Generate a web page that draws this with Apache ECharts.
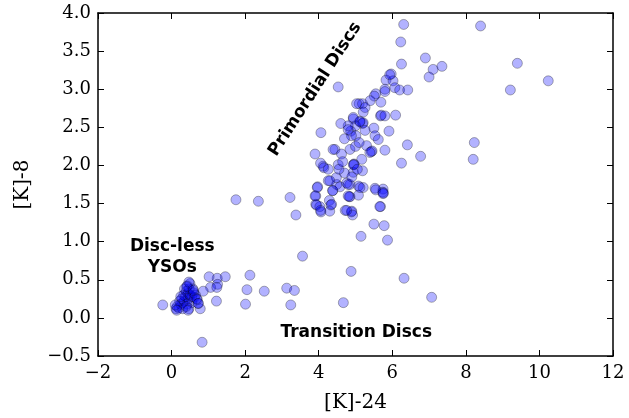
<!DOCTYPE html>
<html>
<head>
<meta charset="utf-8">
<script src="https://cdn.jsdelivr.net/npm/echarts@6/dist/echarts.min.js"></script>
<style>html,body{margin:0;padding:0;background:#fff}#c{width:629px;height:418px}</style>
</head>
<body>
<div id="c"></div>
<script>
// [K]-24 values, [K]-8 values
const xVals = [
  6.31,8.40,6.23,6.90,6.25,7.11,7.35,7.00,9.40,10.24,9.21,5.97,5.83,6.02,6.07,6.20,6.42,5.80,5.80,5.55,5.51,5.40,5.69,5.10,5.19,5.26,5.21,5.68,5.70,5.80,6.09,4.94,5.12,5.19,5.21,5.00,5.26,5.50,5.91,4.87,5.01,5.53,5.62,5.30,5.43,5.45,5.80,6.41,6.77,6.25,8.23,8.20,4.96,4.94,5.19,4.94,5.08,5.21,5.53,5.75,4.85,5.08,5.74,5.76,4.85,5.68,4.89,4.90,4.92,5.50,5.78,5.15,5.87,4.88,6.32,7.07,
  1.75,2.36,3.22,3.38,3.92,3.97,3.92,4.03,4.06,4.29,4.33,4.30,4.38,4.26,4.49,4.58,4.76,4.83,4.72,3.56,4.67,3.13,3.34,3.24,2.52,2.05,2.13,2.01,1.46,1.24,1.02,1.25,1.06,1.23,1.22,0.86,0.78,0.83,-0.24,
  4.53,4.06,3.90,4.44,4.39,4.85,4.12,4.05,4.14,4.26,4.53,4.80,4.94,5.03,4.89,4.96,5.17,5.39,4.48,4.30,4.80,5.12,3.96,3.90,4.38,4.80,5.55,5.75,5.66,3.94,4.35,4.05,4.76,
  4.60,4.70,4.62,5.00,5.10,4.70,4.90,5.05,4.55,4.65,5.93,5.12,4.80,
  0.12,0.15,0.20,0.25,0.30,0.28,0.35,0.33,0.38,0.40,0.42,0.45,0.45,0.48,0.43,0.50,0.50,0.55,0.55,0.60,0.62,0.65,0.70,0.72,0.47,0.30,0.22,0.35,0.40,0.25,0.10,0.58,0.47,0.41,0.59,0.68,0.73,0.45,0.14
];
const yVals = [
  3.85,3.83,3.62,3.41,3.33,3.26,3.30,3.16,3.34,3.11,2.99,3.20,3.12,3.11,3.02,2.99,2.99,3.00,2.97,2.94,2.91,2.85,2.83,2.81,2.81,2.76,2.70,2.65,2.66,2.65,2.66,2.61,2.57,2.55,2.56,2.52,2.46,2.49,2.45,2.45,2.39,2.39,2.34,2.26,2.18,2.19,2.20,2.27,2.12,2.03,2.30,2.08,2.02,2.01,1.93,1.91,1.73,1.71,1.70,1.69,1.75,1.61,1.65,1.64,1.59,1.46,1.39,1.40,1.35,1.23,1.21,1.07,1.02,0.61,0.52,0.27,
  1.55,1.53,1.58,1.35,1.60,1.72,1.49,1.46,1.39,1.54,1.48,1.40,1.67,1.80,1.75,1.72,1.77,1.59,1.41,0.81,0.20,0.39,0.36,0.17,0.35,0.37,0.56,0.18,0.54,0.52,0.54,0.44,0.40,0.40,0.22,0.35,0.12,-0.32,0.17,
  3.03,2.43,2.15,2.21,2.21,2.21,1.99,2.03,1.97,1.95,2.01,2.52,2.63,2.81,2.39,2.01,2.08,2.17,1.84,1.80,1.75,1.71,1.71,1.60,1.67,1.60,1.68,1.63,1.46,1.48,1.49,1.41,1.41,
  2.55,2.35,2.15,2.25,2.30,1.90,1.85,1.95,1.95,2.05,3.19,2.58,2.47,
  0.12,0.15,0.13,0.18,0.20,0.25,0.22,0.30,0.28,0.35,0.18,0.25,0.32,0.38,0.42,0.30,0.45,0.20,0.28,0.33,0.27,0.30,0.24,0.19,0.12,0.12,0.22,0.38,0.15,0.28,0.17,0.38,0.47,0.41,0.36,0.25,0.19,0.10,0.10
];
const xTicks = {min: -2, max: 12, interval: 2};
const yTicks = {min: -0.5, max: 4.0, interval: 0.5};
const labels = [
  {text: 'Primordial Discs', x: 3.90, y: 3.00, rot: 57},
  {text: 'Disc-less', x: 0.02, y: 0.93, rot: 0},
  {text: 'YSOs', x: 0.02, y: 0.66, rot: 0},
  {text: 'Transition Discs', x: 5.02, y: -0.19, rot: 0}
];

const pts = xVals.map((x, i) => [x, yVals[i]]);
const minus = s => String(s).replace('-', '\u2212');
const serif = '"DejaVu Serif", serif';
const chart = echarts.init(document.getElementById('c'), null, {renderer: 'canvas'});
const lineStyle = {color: '#000', width: 1.5};
const tick = {show: true, inside: true, length: 6, lineStyle: {color: '#000', width: 1}};
chart.setOption({
  animation: false,
  grid: {left: 98, right: 16, top: 13, bottom: 61, containLabel: false},
  xAxis: [
    {type: 'value', min: xTicks.min, max: xTicks.max, interval: xTicks.interval, position: 'bottom',
     axisLine: {show: true, onZero: false, lineStyle}, axisTick: tick, splitLine: {show: false},
     axisLabel: {margin: 8, color: '#000', fontFamily: serif, fontSize: 18, formatter: v => minus(v)},
     name: '[K]-24', nameLocation: 'middle', nameGap: 37, nameTextStyle: {color: '#000', fontFamily: serif, fontSize: 20}},
    {type: 'value', min: xTicks.min, max: xTicks.max, interval: xTicks.interval, position: 'top',
     axisLine: {show: true, onZero: false, lineStyle}, axisTick: tick, splitLine: {show: false}, axisLabel: {show: false}}
  ],
  yAxis: [
    {type: 'value', min: yTicks.min, max: yTicks.max, interval: yTicks.interval, position: 'left',
     axisLine: {show: true, onZero: false, lineStyle}, axisTick: tick, splitLine: {show: false},
     axisLabel: {margin: 7, color: '#000', fontFamily: serif, fontSize: 18, formatter: v => minus(v.toFixed(1))},
     name: '[K]-8', nameLocation: 'middle', nameGap: 65, nameRotate: 90, nameTextStyle: {color: '#000', fontFamily: serif, fontSize: 20}},
    {type: 'value', min: yTicks.min, max: yTicks.max, interval: yTicks.interval, position: 'right',
     axisLine: {show: true, onZero: false, lineStyle}, axisTick: tick, splitLine: {show: false}, axisLabel: {show: false}}
  ],
  series: [{
    type: 'scatter', data: pts, symbolSize: 10,
    itemStyle: {color: 'rgba(0,0,255,0.3)', borderColor: 'rgba(0,0,0,0.3)', borderWidth: 1, opacity: 1},
    emphasis: {disabled: true}
  }]
});
const g = labels.map(l => {
  const p = chart.convertToPixel({xAxisIndex: 0, yAxisIndex: 0}, [l.x, l.y]);
  return {type: 'text', x: p[0], y: p[1], rotation: l.rot * Math.PI / 180, z: 10,
    style: {text: l.text, fill: '#000', font: 'bold 17px "DejaVu Sans", sans-serif', textAlign: 'center', textVerticalAlign: 'middle'}};
});
chart.setOption({graphic: g});
</script>
</body>
</html>
